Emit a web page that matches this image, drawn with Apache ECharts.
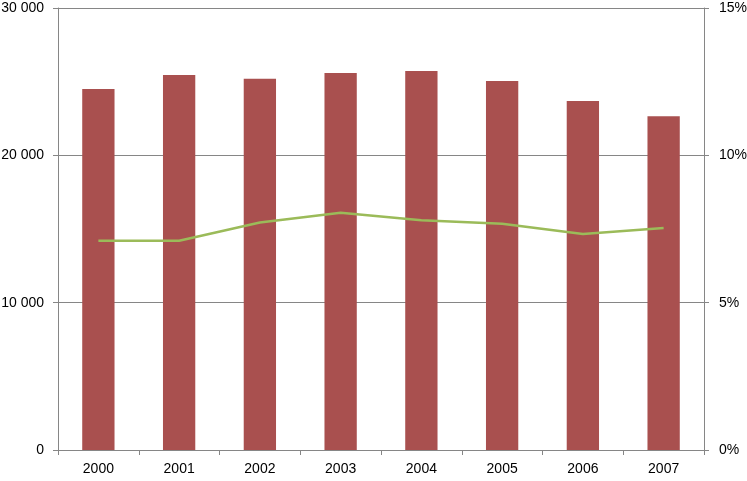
<!DOCTYPE html>
<html>
<head>
<meta charset="utf-8">
<script src="https://cdn.jsdelivr.net/npm/echarts@6/dist/echarts.min.js"></script>
<style>
  html, body { margin: 0; padding: 0; background: #fff; }
  #chart { width: 747px; height: 481px; }
</style>
</head>
<body>
<div id="chart"></div>
<script>
  // data
  var years = ['2000', '2001', '2002', '2003', '2004', '2005', '2006', '2007'];
  var barValues = [24500, 25450, 25200, 25580, 25730, 25050, 23680, 22650];
  var lineValues = [7.10, 7.10, 7.72, 8.05, 7.80, 7.68, 7.33, 7.53];

  var axisGray = '#868686';
  var textColor = '#000';
  var font = 'Liberation Sans';

  var chart = echarts.init(document.getElementById('chart'));

  chart.setOption({
    animation: false,
    grid: { left: 58, right: 43, top: 8, bottom: 31, outerBoundsMode: 'none', containLabel: false },
    xAxis: {
      type: 'category',
      data: years,
      boundaryGap: true,
      axisLine: { lineStyle: { color: axisGray } },
      axisTick: { show: true, length: 5, lineStyle: { color: axisGray } },
      axisLabel: { color: textColor, fontFamily: font, fontSize: 14, margin: 12 }
    },
    yAxis: [{
      type: 'value',
      min: 0, max: 30000, interval: 10000,
      axisLine: { show: true, lineStyle: { color: axisGray } },
      axisTick: { show: true, length: 5, lineStyle: { color: axisGray } },
      splitLine: { lineStyle: { color: axisGray } },
      axisLabel: {
        color: textColor, fontFamily: font, fontSize: 14, margin: 14,
        formatter: function (v) { return String(v).replace(/\B(?=(\d{3})+(?!\d))/g, ' '); }
      }
    }, {
      type: 'value',
      min: 0, max: 15, interval: 5,
      position: 'right',
      axisLine: { show: true, lineStyle: { color: axisGray } },
      axisTick: { show: true, length: 5, lineStyle: { color: axisGray } },
      splitLine: { show: false },
      axisLabel: { color: textColor, fontFamily: font, fontSize: 14, margin: 15, formatter: '{value}%' }
    }],
    series: [{
      type: 'bar',
      data: barValues,
      barWidth: '40%',
      itemStyle: { color: '#A9504F' }
    }, {
      type: 'line',
      yAxisIndex: 1,
      data: lineValues,
      showSymbol: false,
      lineStyle: { color: '#9BBB59', width: 2.5 },
      itemStyle: { color: '#9BBB59' }
    }]
  });
</script>
</body>
</html>
